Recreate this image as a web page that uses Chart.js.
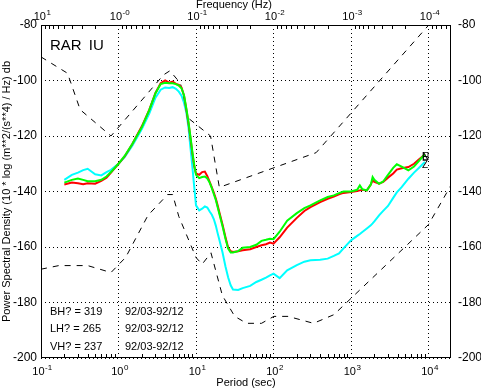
<!DOCTYPE html>
<html>
<head>
<meta charset="utf-8">
<title>RAR IU power spectral density</title>
<script src="https://cdn.jsdelivr.net/npm/chart.js@4.4.1/dist/chart.umd.min.js"></script>
<style>
  body { margin: 0; background: #fff; }
  canvas { display: block; }
</style>
</head>
<body>
<canvas id="psd" width="481" height="390"></canvas>
<script>
// periods (sec) the station spectra were read at
const periods = [0.2, 0.25, 0.3, 0.35, 0.4, 0.5, 0.6, 0.7, 0.8, 1,
  1.2, 1.5, 2, 2.5, 3, 3.5, 4, 4.5, 5, 5.5,
  6, 6.5, 7, 7.5, 8, 8.5, 9, 9.5, 10, 11,
  12, 13, 14, 15, 16, 17, 18, 19, 20, 22,
  24, 26, 28, 30, 35, 40, 50, 60, 70, 80,
  90, 100, 120, 150, 200, 250, 300, 400, 500, 600,
  700, 800, 1000, 1200, 1300, 1400, 1600, 1800, 1900, 2000,
  2300, 2600, 3000, 3500, 3900, 4500, 5500, 6500, 7500, 8500, 9000];

// N component (red), dB
const redN = [-137.5, -136.8, -137.0, -137.4, -137.0, -137.2, -136.2, -135.0, -133.2, -130.0,
  -127.4, -123.0, -116.5, -110.5, -104.5, -101.0, -100.0, -100.8, -100.4, -101.2,
  -101.6, -102.5, -105.5, -110.5, -115.5, -121.0, -126.5, -131.0, -133.5, -134.0,
  -133.0, -132.8, -134.5, -136.5, -138.5, -140.5, -142.5, -145.0, -147.5, -152.0,
  -156.5, -160.3, -161.5, -161.8, -161.5, -161.2, -160.8, -160.0, -159.4, -159.0,
  -158.4, -158.8, -156.5, -153.0, -149.5, -147.0, -145.6, -143.8, -142.6, -141.8,
  -141.0, -140.5, -140.2, -139.8, -139.6, -139.4, -139.6, -137.5, -136.0, -136.5,
  -137.2, -136.5, -135.0, -133.5, -132.1, -131.6, -131.2, -130.0, -128.5, -127.2, -126.6];

// E component (green), dB
const greenE = [-136.8, -135.8, -135.3, -135.8, -136.3, -136.3, -135.8, -134.6, -133.0, -130.0,
  -127.2, -123.0, -116.8, -110.6, -104.6, -101.3, -100.8, -101.0, -101.0, -101.3,
  -101.8, -102.8, -105.3, -110.0, -115.0, -120.5, -126.0, -130.5, -134.0, -135.2,
  -134.8, -134.6, -135.3, -136.8, -138.8, -141.0, -143.0, -145.6, -148.0, -152.5,
  -157.0, -160.6, -162.0, -162.0, -161.5, -160.3, -160.0, -159.2, -157.8, -157.4,
  -157.0, -157.2, -154.5, -150.5, -147.8, -146.0, -145.0, -143.2, -142.0, -141.4,
  -140.6, -140.0, -140.0, -139.4, -137.8, -139.2, -139.6, -137.5, -134.8, -135.8,
  -137.2, -136.4, -134.0, -131.5, -130.2, -131.0, -132.4, -131.0, -129.0, -127.3, -126.6];

// Z component (cyan), dB
const cyanZ = [-135.8, -134.0, -133.2, -132.3, -131.8, -133.8, -134.2, -133.0, -132.2, -130.0,
  -127.6, -123.6, -117.5, -111.8, -106.2, -103.3, -102.5, -102.7, -102.4, -103.0,
  -104.0, -105.5, -108.0, -111.5, -117.0, -124.5, -131.5, -138.5, -145.0, -146.8,
  -146.2, -145.4, -145.8, -147.2, -148.4, -150.0, -152.3, -155.0, -157.4, -162.0,
  -167.0, -171.0, -173.8, -175.3, -175.5, -174.8, -174.0, -172.6, -171.8, -171.0,
  -170.2, -169.6, -171.2, -168.4, -166.5, -165.3, -164.8, -164.6, -164.2, -163.2,
  -162.3, -160.5, -157.6, -156.0, -155.3, -154.6, -153.3, -152.2, -151.5, -150.8,
  -148.6, -147.0, -145.2, -142.3, -140.3, -138.4, -135.4, -133.2, -131.5, -130.0, -129.4];

// low / high noise model corners (dashed)
const nlnmPeriods = [0.1, 0.17, 0.4, 0.8, 1.24, 2.4, 4.3, 5, 6, 10, 12, 15.6, 21.9, 31.6, 45, 70, 101, 154, 328, 600, 10000, 20000];
const nlnmValues = [-168.0, -166.7, -166.7, -169.2, -163.7, -148.6, -141.1, -141.1, -149.0, -163.8, -166.2, -162.1, -177.5, -185.0, -187.5, -187.5, -185.0, -185.0, -187.5, -184.4, -151.9, -137.2];
const nhnmPeriods = [0.1, 0.22, 0.32, 0.8, 3.8, 4.6, 6.3, 7.9, 15.4, 20, 354.8, 10000];
const nhnmValues = [-91.5, -97.4, -110.5, -120.0, -98.0, -96.5, -101.0, -113.5, -120.0, -138.5, -126.0, -80.1];

// axis ticks
const periodTicks = [0.1, 1, 10, 100, 1000, 10000];
const periodExps = ['-1', '0', '1', '2', '3', '4'];
const freqExps = ['1', '-0', '-1', '-2', '-3', '-4'];
const dbTicks = [-200, -180, -160, -140, -120, -100, -80];

// text in the plot
const channels = ['BH?', 'LH?', 'VH?'];
const channelCounts = [319, 265, 237];
const channelSpans = ['92/03-92/12', '92/03-92/12', '92/03-92/12'];

const X_MIN = 0.1;
const X_MAX = 19500;
const FONT = '"Liberation Sans", Arial, sans-serif';

const toPoints = (xs, ys) => xs.map((p, i) => ({ x: p, y: ys[i] }));
const decadeTicks = (s) => { s.ticks = periodTicks.map((v) => ({ value: v })); };
const dbTickList = (s) => { s.ticks = dbTicks.map((v) => ({ value: v })); };

const psdDecor = {
  id: 'psdDecor',
  afterDraw(chart) {
    const { ctx, chartArea: a, scales } = chart;
    const xs = scales.x;
    ctx.save();
    ctx.strokeStyle = '#000';
    ctx.fillStyle = '#000';
    ctx.lineWidth = 1;

    // minor ticks, period below and frequency on top
    ctx.beginPath();
    for (let n = -1; n <= 4; n++) {
      for (let k = 2; k <= 9; k++) {
        const p = k * Math.pow(10, n);
        if (p > X_MAX) continue;
        const px = Math.round(xs.getPixelForValue(p)) + 0.5;
        ctx.moveTo(px, a.bottom);
        ctx.lineTo(px, a.bottom - 4);
      }
    }
    for (let n = -5; n <= 0; n++) {
      for (let k = 2; k <= 9; k++) {
        const p = 1 / (k * Math.pow(10, n));
        if (p < X_MIN || p > X_MAX) continue;
        const px = Math.round(xs.getPixelForValue(p)) + 0.5;
        ctx.moveTo(px, a.top);
        ctx.lineTo(px, a.top + 4);
      }
    }
    ctx.stroke();

    // frame
    ctx.strokeRect(Math.round(a.left) + 0.5, Math.round(a.top) + 0.5,
      Math.round(a.right - a.left) - 1, Math.round(a.bottom - a.top) - 1);

    // 10^n labels
    const drawPow = (px, exp, baseY) => {
      ctx.font = '11px ' + FONT;
      const w1 = ctx.measureText('10').width;
      ctx.font = '8px ' + FONT;
      const w2 = ctx.measureText(exp).width;
      const x0 = px - (w1 + w2) / 2 + 1;
      ctx.font = '11px ' + FONT;
      ctx.fillText('10', x0, baseY);
      ctx.font = '8px ' + FONT;
      ctx.fillText(exp, x0 + w1 + 0.5, baseY - 5);
    };
    ctx.textAlign = 'left';
    ctx.textBaseline = 'alphabetic';
    periodTicks.forEach((p, i) => {
      const px = xs.getPixelForValue(p);
      drawPow(px, periodExps[i], 375);
      drawPow(px, freqExps[i], 20);
    });

    // top title
    ctx.font = '11px ' + FONT;
    ctx.textAlign = 'center';
    ctx.textBaseline = 'middle';
    ctx.fillText('Frequency (Hz)', 234, 5);

    // station label
    ctx.textAlign = 'left';
    ctx.textBaseline = 'alphabetic';
    ctx.font = '15px ' + FONT;
    ctx.wordSpacing = '3px';
    ctx.fillText('RAR IU', 50, 50);
    ctx.wordSpacing = '0px';

    // channel summary
    ctx.font = '11px ' + FONT;
    channels.forEach((c, i) => {
      const y = 314.5 + i * 17.5;
      ctx.fillText(c + ' = ' + channelCounts[i], 50, y);
      ctx.fillText(channelSpans[i], 125, y);
    });

    // component letters at the curve ends
    ctx.font = '10px ' + FONT;
    const ys = scales.y;
    const last = periods.length - 1;
    const endX = xs.getPixelForValue(periods[last]) - 3;
    ctx.fillText('N', endX, ys.getPixelForValue(redN[last]) + 6);
    ctx.fillText('E', endX, ys.getPixelForValue(greenE[last]) + 6);
    ctx.fillText('Z', endX, ys.getPixelForValue(cyanZ[last]) + 6);
    ctx.restore();
  }
};

new Chart(document.getElementById('psd'), {
  type: 'line',
  data: {
    datasets: [
      { label: 'E', data: toPoints(periods, greenE), borderColor: '#00ff00', borderWidth: 2 },
      { label: 'N', data: toPoints(periods, redN), borderColor: '#ff0000', borderWidth: 2 },
      { label: 'Z', data: toPoints(periods, cyanZ), borderColor: '#00ffff', borderWidth: 2 },
      { label: 'NHNM', data: toPoints(nhnmPeriods, nhnmValues), borderColor: '#000', borderWidth: 1, borderDash: [6, 6] },
      { label: 'NLNM', data: toPoints(nlnmPeriods, nlnmValues), borderColor: '#000', borderWidth: 1, borderDash: [6, 6] }
    ]
  },
  options: {
    responsive: false,
    animation: false,
    devicePixelRatio: 1,
    layout: { padding: 0 },
    elements: { point: { radius: 0 }, line: { tension: 0, fill: false } },
    plugins: { legend: { display: false }, tooltip: { enabled: false } },
    scales: {
      x: {
        type: 'logarithmic',
        position: 'bottom',
        min: X_MIN,
        max: X_MAX,
        afterBuildTicks: decadeTicks,
        afterFit: (s) => { s.height = 32; },
        ticks: { display: false },
        grid: { color: '#000', lineWidth: 1, drawTicks: false },
        border: { display: false, dash: [1, 3] },
        title: { display: true, text: 'Period (sec)', color: '#000', font: { family: FONT, size: 11 }, padding: 0 }
      },
      x2: {
        type: 'logarithmic',
        position: 'top',
        min: X_MIN,
        max: X_MAX,
        afterBuildTicks: decadeTicks,
        afterFit: (s) => { s.height = 25; },
        ticks: { display: false },
        grid: { display: false },
        border: { display: false }
      },
      y: {
        position: 'left',
        min: -200,
        max: -80,
        afterBuildTicks: dbTickList,
        afterFit: (s) => { s.width = 41; },
        ticks: { color: '#000', font: { family: FONT, size: 12 }, padding: 4, callback: (v) => String(v) },
        grid: { color: '#000', lineWidth: 1, drawTicks: false },
        border: { display: false, dash: [1, 3] },
        title: {
          display: true,
          text: 'Power Spectral Density (10 * log (m**2/(s**4) / Hz) db',
          color: '#000',
          font: { family: FONT, size: 11 },
          padding: 0
        }
      },
      y2: {
        position: 'right',
        min: -200,
        max: -80,
        afterBuildTicks: dbTickList,
        afterFit: (s) => { s.width = 30; },
        ticks: { color: '#000', font: { family: FONT, size: 12 }, padding: 7, callback: (v) => String(v) },
        grid: { display: false, drawTicks: false },
        border: { display: false }
      }
    }
  },
  plugins: [psdDecor]
});
</script>
</body>
</html>
